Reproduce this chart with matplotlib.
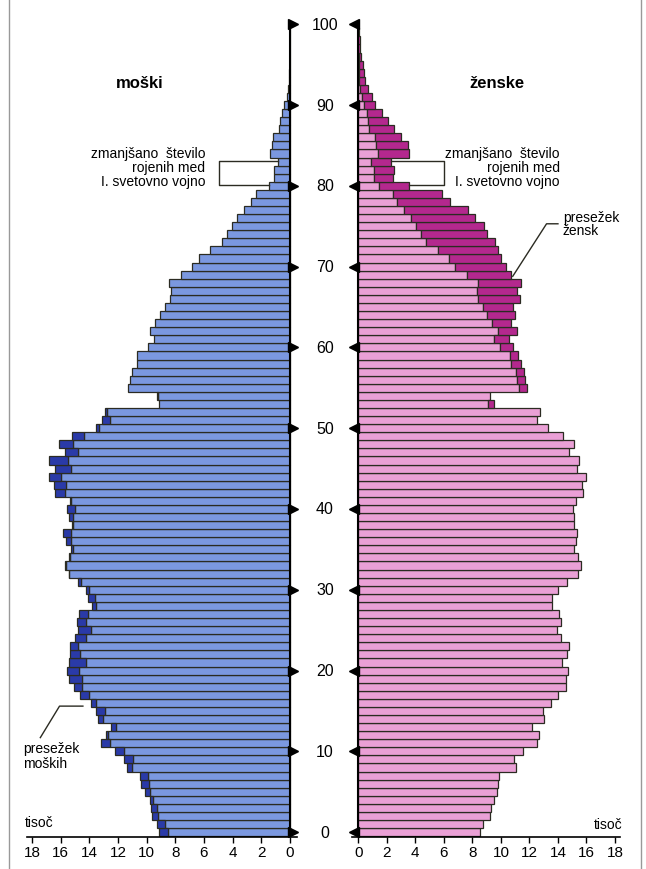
import numpy as np
import matplotlib
matplotlib.use("Agg")
import matplotlib.pyplot as plt
from matplotlib.lines import Line2D

plt.rcParams['font.family'] = ['Liberation Sans', 'DejaVu Sans']

# population by single year of age, thousands
ages = np.arange(100)
men = [9.11, 9.29, 9.64, 9.69, 9.80, 10.10, 10.41, 10.45, 11.38, 11.61,
       12.24, 13.17, 12.82, 12.50, 13.43, 13.52, 13.87, 14.68, 15.10, 15.40,
       15.56, 15.40, 15.38, 15.38, 14.98, 14.82, 14.87, 14.75, 13.78, 14.10,
       14.22, 14.82, 15.45, 15.68, 15.42, 15.26, 15.63, 15.84, 15.21, 15.45,
       15.56, 15.38, 16.42, 16.49, 16.79, 16.38, 16.84, 15.68, 16.10, 15.21,
       13.52, 13.12, 12.94, 9.11, 9.29, 11.27, 11.15, 11.03, 10.69, 10.64,
       9.92, 9.52, 9.80, 9.41, 9.06, 8.71, 8.36, 8.29, 8.41, 7.60,
       6.81, 6.34, 5.57, 4.76, 4.37, 4.02, 3.67, 3.21, 2.70, 2.40,
       1.44, 1.09, 1.10, 0.86, 1.37, 1.25, 1.18, 0.78, 0.68, 0.58,
       0.39, 0.23, 0.12, 0.07, 0.05, 0.03, 0.02, 0.01, 0.01, 0.0]
women = [8.53, 8.72, 9.24, 9.28, 9.54, 9.75, 9.82, 9.89, 11.04, 10.92,
         11.57, 12.55, 12.67, 12.16, 13.04, 12.93, 13.51, 14.03, 14.54, 14.54,
         14.73, 14.26, 14.66, 14.80, 14.21, 13.91, 14.21, 14.10, 13.56, 13.61,
         14.03, 14.61, 15.40, 15.62, 15.38, 15.15, 15.27, 15.31, 15.15, 15.13,
         15.03, 15.25, 15.73, 15.66, 15.95, 15.31, 15.50, 14.80, 15.13, 14.38,
         13.33, 12.55, 12.74, 9.54, 9.24, 11.81, 11.69, 11.62, 11.39, 11.22,
         10.87, 10.57, 11.11, 10.69, 10.99, 10.87, 11.34, 11.11, 11.39, 10.71,
         10.36, 10.01, 9.82, 9.59, 9.05, 8.84, 8.18, 7.71, 6.43, 5.90,
         3.58, 2.46, 2.50, 2.29, 3.58, 3.46, 2.99, 2.53, 2.08, 1.68,
         1.20, 0.96, 0.68, 0.47, 0.38, 0.33, 0.20, 0.15, 0.10, 0.06]
age_ticks = list(range(0, 101, 10))
x_ticks = list(range(0, 19, 2))

men_light = '#7b98e0'
men_dark = '#2a3aa8'
women_light = '#eaa0d6'
women_dark = '#b4288e'
edge = '#2b2b22'

W, H = 646, 870
fig = plt.figure(figsize=(W / 100, H / 100), dpi=100)


def fx(px):
    return px / W


def fy(py):
    return 1 - py / H


bottom = fy(838)
top = fy(22)
ax_m = fig.add_axes([fx(27), bottom, fx(297) - fx(27), top - bottom])
ax_w = fig.add_axes([fx(352), bottom, fx(620) - fx(352), top - bottom])

men_a = np.array(men)
women_a = np.array(women)
common = np.minimum(men_a, women_a)
men_extra = men_a - common
women_extra = women_a - common

ax_m.barh(ages, common, height=1, color=men_light, edgecolor=edge, lw=0.9)
mm = men_extra > 0.02
ax_m.barh(ages[mm], men_extra[mm], left=common[mm], height=1,
          color=men_dark, edgecolor=edge, lw=0.9)

ax_w.barh(ages, common, height=1, color=women_light, edgecolor=edge, lw=0.9)
wm = women_extra > 0.02
ax_w.barh(ages[wm], women_extra[wm], left=common[wm], height=1,
          color=women_dark, edgecolor=edge, lw=0.9)

ax_m.set_xlim(18.35, -0.49)
ax_w.set_xlim(-0.44, 18.35)

for ax in (ax_m, ax_w):
    ax.set_ylim(-0.6, 100.4)
    for s in ('top', 'left', 'right'):
        ax.spines[s].set_visible(False)
    ax.spines['bottom'].set_linewidth(1.2)
    ax.set_yticks([])
    ax.set_xticks(x_ticks)
    ax.tick_params(axis='x', labelsize=11, length=4, width=1, pad=2)
    ax.axvline(0, color='black', lw=1.5)
    ax.patch.set_alpha(0)

ax_m.plot([-0.24] * len(age_ticks), age_ticks, marker='>', ls='none',
          color='black', ms=7, clip_on=False)
ax_w.plot([-0.3] * len(age_ticks), age_ticks, marker='<', ls='none',
          color='black', ms=7, clip_on=False)

for a in age_ticks:
    ax_m.text(-2.44, a, str(a), ha='center', va='center', fontsize=11.5)

fig.text(fx(140), fy(83), 'moški', ha='center', va='center',
         fontsize=12, fontweight='bold')
fig.text(fx(497), fy(83), 'ženske', ha='center', va='center',
         fontsize=12, fontweight='bold')
fig.text(fx(25), fy(823), 'tisoč', ha='left', va='center', fontsize=10)
fig.text(fx(622), fy(825), 'tisoč', ha='right', va='center', fontsize=10)

# WWI birth gap note, both sides
note = ['zmanjšano  število', 'rojenih med', 'I. svetovno vojno']
note_y = [84.1, 82.3, 80.6]
for t, y in zip(note, note_y):
    ax_m.text(5.92, y, t, ha='right', va='center', fontsize=10)
    ax_w.text(14.14, y, t, ha='right', va='center', fontsize=10)
ax_m.plot([men[83], 4.93, 4.93, men[80]], [83.1, 83.1, 80.1, 80.1],
          color=edge, lw=1, clip_on=False)
ax_w.plot([women[83], 6.03, 6.03, women[80]], [83.1, 83.1, 80.1, 80.1],
          color=edge, lw=1, clip_on=False)

# excess labels
ax_w.text(14.35, 76.1, 'presežek', ha='left', va='center', fontsize=10)
ax_w.text(14.35, 74.5, 'žensk', ha='left', va='center', fontsize=10)
ax_w.plot([14.0, 13.2, 10.83], [75.3, 75.3, 68.8], color=edge, lw=1,
          clip_on=False)

ax_m.text(18.6, 10.4, 'presežek', ha='left', va='center', fontsize=10)
ax_m.text(18.6, 8.5, 'moških', ha='left', va='center', fontsize=10)
ax_m.plot([17.42, 16.08, 14.45], [11.7, 15.6, 15.6], color=edge, lw=1,
          clip_on=False)

# thin frame lines at the sides
for px in (8.5, 641):
    fig.add_artist(Line2D([fx(px), fx(px)], [0, 1], transform=fig.transFigure,
                          color='#999999', lw=1))

fig.savefig('out.png', dpi=100)
